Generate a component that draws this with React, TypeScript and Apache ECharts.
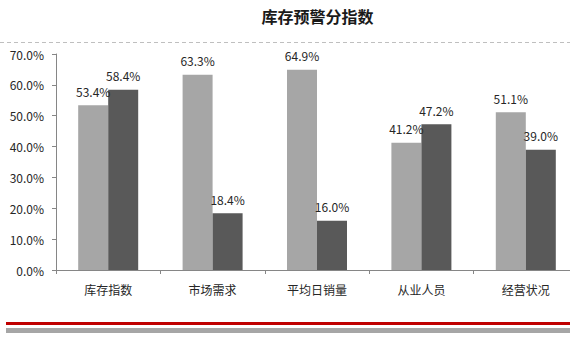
import React, { useEffect, useRef } from "react";
import * as echarts from "echarts";

const categories = ["库存指数", "市场需求", "平均日销量", "从业人员", "经营状况"];
const seriesA = [53.4, 63.3, 64.9, 41.2, 51.1];
const seriesB = [58.4, 18.4, 16.0, 47.2, 39.0];
const titleText = "库存预警分指数";

const FONT = "'Noto Sans CJK SC', 'Microsoft YaHei', sans-serif";

export default function App() {
  const ref = useRef<HTMLDivElement>(null);
  useEffect(() => {
    document.body.style.margin = "0";
    const chart = echarts.init(ref.current!, null, { renderer: "svg" });
    const label = {
      show: true,
      position: "top" as const,
      distance: 8,
      color: "#262626",
      fontSize: 12,
      fontFamily: FONT,
      formatter: (p: any) => Number(p.value).toFixed(1) + "%",
    };
    chart.setOption({
      animation: false,
      backgroundColor: "#ffffff",
      textStyle: { fontFamily: FONT },
      grid: {
        left: 56,
        width: 522,
        top: 54,
        bottom: 70,
        containLabel: false,
        outerBoundsMode: "none",
      },
      xAxis: {
        type: "category",
        data: categories,
        axisLine: { lineStyle: { color: "#868686", width: 1 } },
        axisTick: { show: true, length: 4, lineStyle: { color: "#868686" } },
        axisLabel: { color: "#262626", fontSize: 12, margin: 13, fontFamily: FONT },
      },
      yAxis: {
        type: "value",
        min: 0,
        max: 70,
        interval: 10,
        splitLine: { show: false },
        axisLine: { show: true, lineStyle: { color: "#868686", width: 1 } },
        axisTick: { show: true, length: 4, lineStyle: { color: "#868686" } },
        axisLabel: {
          color: "#262626",
          fontSize: 12,
          margin: 12,
          fontFamily: FONT,
          formatter: (v: number) => v.toFixed(1) + "%",
        },
      },
      series: [
        {
          type: "bar",
          data: seriesA,
          barWidth: 30,
          barGap: "0%",
          itemStyle: { color: "#A6A6A6" },
          label,
        },
        {
          type: "bar",
          data: seriesB,
          barWidth: 30,
          barGap: "0%",
          itemStyle: { color: "#595959" },
          label,
        },
      ],
      graphic: [
        {
          type: "text",
          x: 317.5,
          y: 16,
          style: {
            text: titleText,
            align: "center",
            verticalAlign: "middle",
            fontSize: 16,
            fontWeight: "bold",
            fontFamily: FONT,
            fill: "#1a1a1a",
          },
        },
        {
          type: "line",
          shape: { x1: 0, y1: 42.5, x2: 570, y2: 42.5 },
          style: { stroke: "#BFBFBF", lineWidth: 1, lineDash: [4, 3] },
        },
        {
          type: "rect",
          shape: { x: 6, y: 322, width: 564, height: 3 },
          style: { fill: "#C00000" },
        },
        {
          type: "rect",
          shape: { x: 6, y: 328, width: 564, height: 5 },
          style: { fill: "#A6A6A6" },
        },
      ],
    });
    return () => chart.dispose();
  }, []);
  return <div ref={ref} style={{ width: 570, height: 340 }} />;
}
